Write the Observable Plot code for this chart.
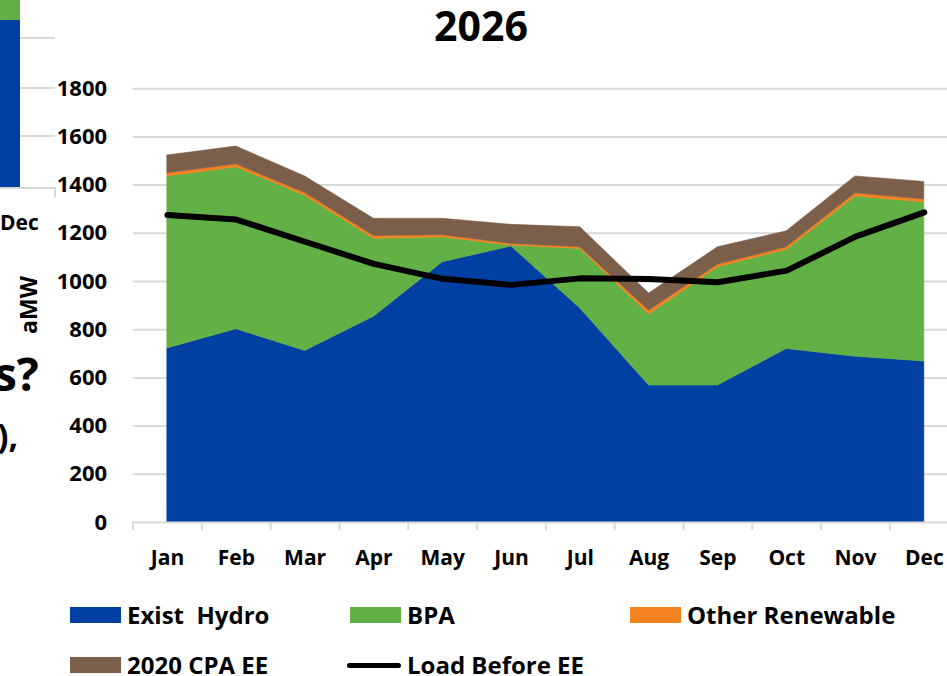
<!DOCTYPE html>
<html><head><meta charset="utf-8">
<script src="https://cdn.jsdelivr.net/npm/d3@7"></script>
<script src="https://cdn.jsdelivr.net/npm/@observablehq/plot@0.6"></script>
<style>
body{margin:0;background:#fff;font-family:"Open Sans",sans-serif;font-weight:700;color:#000;}
#wrap{position:relative;width:947px;height:676px;overflow:hidden;background:#fff;}
#chart{position:absolute;left:0;top:0;}
#title{position:absolute;left:481px;top:5px;transform:translateX(-50%);white-space:nowrap;font-size:41px;line-height:41px;}
#ylab{position:absolute;left:28px;top:305px;font-size:23px;line-height:23px;transform:translate(-50%,-50%) rotate(-90deg);}
.lg{position:absolute;font-size:24px;line-height:24px;white-space:pre;}
.sw{position:absolute;width:51px;height:16px;}
.frag{position:absolute;white-space:pre;}
</style></head><body>
<div id="wrap">
  <div id="frag"></div>
  <div id="chart"></div>
  <div id="title">2026</div>
  <div id="ylab">aMW</div>
  <div id="legend"></div>
</div>
<script>
const months = ["Jan","Feb","Mar","Apr","May","Jun","Jul","Aug","Sep","Oct","Nov","Dec"];
const seriesNames = ["Exist  Hydro","BPA","Other Renewable","2020 CPA EE"];
const existHydro = [722, 802, 712, 854, 1080, 1145, 888, 568, 568, 720, 688, 668];
const bpa        = [714, 672, 644, 323, 103, 4, 247, 295, 491, 411, 665, 660];
const otherRenew = [13, 12, 11, 12, 9, 7, 7, 16, 11, 11, 13, 12];
const cpaEE      = [74, 74, 69, 71, 68, 79, 83, 71, 72, 66, 70, 73];
const loadBeforeEE = [1276, 1257, 1165, 1073, 1011, 986, 1013, 1010, 997, 1045, 1186, 1287];
const yTicks = [0, 200, 400, 600, 800, 1000, 1200, 1400, 1600, 1800];
const colors = ["#0040A2", "#62B046", "#F58220", "#7B5F4B"];
const loadName = "Load Before EE";

const seriesValues = [existHydro, bpa, otherRenew, cpaEE];
const rows = [];
seriesNames.forEach((s, k) => seriesValues[k].forEach((v, i) => rows.push({i, series: s, value: v})));
const loadRows = loadBeforeEE.map((v, i) => ({i, value: v}));
const bounds = d3.range(12).map(i => i - 0.5);

const plot = Plot.plot({
  width: 947, height: 590,
  marginLeft: 132.6, marginRight: 0, marginTop: 40, marginBottom: 68,
  x: {type: "linear", domain: [-0.5, 11.337], axis: null},
  y: {domain: [0, 2000], axis: null},
  color: {domain: seriesNames, range: colors},
  style: {fontFamily: "Open Sans", fontWeight: 700, fontSize: "22px", color: "#000", background: "transparent"},
  marks: [
    Plot.ruleY(yTicks.filter(d => d > 0), {stroke: "#D9D9D9", strokeWidth: 2}),
    Plot.areaY(rows, {x: "i", y: "value", z: "series", fill: "series", stroke: "series", strokeWidth: 0.6}),
    Plot.ruleY([0], {stroke: "#D9D9D9", strokeWidth: 2}),
    Plot.axisX(bounds, {tickSize: 8, tickFormat: () => "", stroke: "#D9D9D9", strokeWidth: 2, label: null}),
    Plot.axisX(d3.range(12), {tickSize: 0, tickPadding: 28, tickFormat: i => months[i], fontSize: 21, fontWeight: 700, label: null}),
    Plot.axisY(yTicks, {tickSize: 0, tickPadding: 26, tickFormat: d => String(d), fontSize: 22, fontWeight: 700, label: null}),
    Plot.line(loadRows, {x: "i", y: "value", stroke: "#000", strokeWidth: 6, strokeLinecap: "round", strokeLinejoin: "round"})
  ]
});
document.getElementById("chart").appendChild(plot);

// legend
const lg = document.getElementById("legend");
const items = [
  {name: seriesNames[0], color: colors[0], x: 70, y: 607},
  {name: seriesNames[1], color: colors[1], x: 350, y: 607},
  {name: seriesNames[2], color: colors[2], x: 630, y: 607},
  {name: seriesNames[3], color: colors[3], x: 70, y: 657},
  {name: loadName, color: "#000", x: 350, y: 657, line: true}
];
items.forEach(it => {
  const sw = document.createElement("div");
  sw.className = "sw";
  sw.style.left = it.x + "px";
  if (it.line) {
    sw.style.top = (it.y + 6) + "px"; sw.style.height = "5px"; sw.style.borderRadius = "3px"; sw.style.width = "54px"; sw.style.left = (it.x - 3) + "px";
  } else sw.style.top = it.y + "px";
  sw.style.background = it.color;
  lg.appendChild(sw);
  const t = document.createElement("div");
  t.className = "lg";
  t.textContent = it.name;
  t.style.left = (it.x + 57) + "px";
  t.style.top = (it.y - 4) + "px";
  lg.appendChild(t);
});

// fragments of the neighbouring slide content at the left edge
const fr = document.getElementById("frag");
function box(l, t, w, h, c){const d=document.createElement("div");d.style.cssText=`position:absolute;left:${l}px;top:${t}px;width:${w}px;height:${h}px;background:${c}`;fr.appendChild(d);}
box(0, 0, 20, 20, "#62B046");
box(0, 20, 20, 168, "#0040A2");
[37, 87, 135].forEach(y => box(20, y, 35, 2, "#D9D9D9"));
box(0, 187, 56, 2, "#D9D9D9");
box(54, 187, 2, 10, "#D9D9D9");
function txt(s, l, t, fs){const d=document.createElement("div");d.className="frag";d.textContent=s;d.style.cssText+=`left:${l}px;top:${t}px;font-size:${fs}px;line-height:${fs}px;`;fr.appendChild(d);}
txt("Dec", 0, 212, 21);
txt("s?", -6, 350, 46);
txt("),", -3, 418, 34);
</script>
</body></html>
